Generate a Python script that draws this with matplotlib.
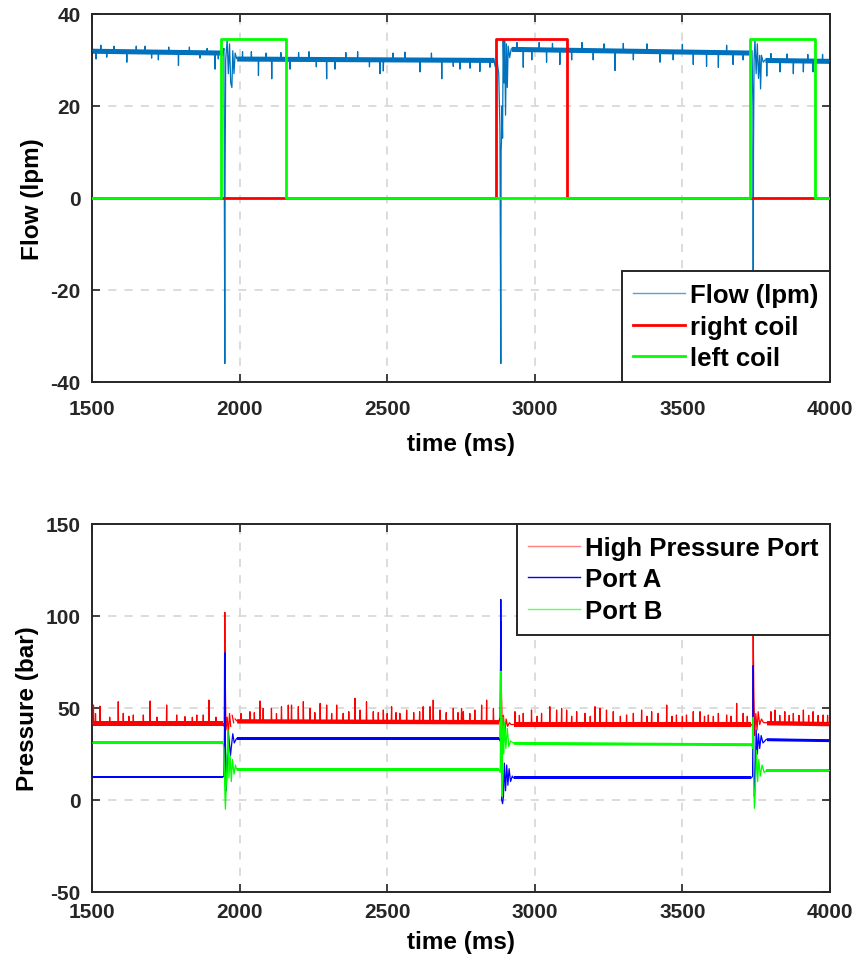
import numpy as np
import matplotlib
matplotlib.use("Agg")
import matplotlib.pyplot as plt
from matplotlib.lines import Line2D

plt.rcParams["font.family"] = ["Liberation Sans", "DejaVu Sans"]
plt.rcParams["font.weight"] = "bold"
plt.rcParams["axes.unicode_minus"] = False

TIME_LIM = (1500, 4000)
TIME_TICKS = [1500, 2000, 2500, 3000, 3500, 4000]
FLOW_TICKS = [-40, -20, 0, 20, 40]
PRESSURE_TICKS = [-50, 0, 50, 100, 150]

# ---------------- flow (lpm) ----------------
# steady stretches: start, end, level at start, level at end
flow_seg_start = [1500, 1990, 2920, 3780]
flow_seg_end = [1944, 2862, 3732, 4000]
flow_seg_lvl0 = [32.0, 30.3, 32.4, 30.0]
flow_seg_lvl1 = [31.6, 30.0, 31.6, 29.8]
flow_band = 0.55

# switching transients
flow_event_t = [1944, 1947, 1950, 1951, 1953, 1958, 1962, 1966, 1970, 1974, 1977, 1981, 1985, 1990,
                2862, 2866, 2872, 2878, 2882, 2885, 2886, 2887, 2889, 2891, 2893, 2896, 2898, 2901,
                2904, 2907, 2910, 2915, 2920,
                3732, 3736, 3739, 3740, 3741, 3743, 3746, 3750, 3754, 3758, 3762, 3765, 3768, 3774, 3780]
flow_event_v = [31.6, 32.5, -36.0, 5.0, 30.0, 34.5, 27.0, 33.5, 25.0, 24.0, 32.0, 27.0, 31.5, 30.3,
                30.0, 28.5, 30.0, 27.0, 15.0, -36.0, 10.0, 12.0, 20.0, 13.0, 34.5, 25.0, 34.5, 18.0,
                33.5, 24.0, 33.0, 30.5, 32.4,
                31.6, 32.0, 20.0, -36.0, 10.0, 30.0, 34.5, 27.0, 33.5, 26.0, 31.0, 23.7, 31.0, 29.5, 30.0]

# isolated dips and peaks in the flow record
flow_spike_t = [1514, 1530, 1550, 1575, 1618, 1650, 1680, 1702, 1725, 1760, 1793, 1830, 1866, 1890,
                1917, 1928,
                2010, 2040, 2064, 2090, 2109, 2140, 2171, 2200, 2235, 2260, 2295, 2323, 2360, 2400,
                2440, 2476, 2487, 2520, 2560, 2611, 2650, 2685, 2724, 2747, 2781, 2814, 2848,
                2940, 2961, 2990, 3015, 3040, 3060, 3085, 3125, 3160, 3198, 3235, 3272, 3300, 3334,
                3380, 3424, 3469, 3500, 3537, 3582, 3622, 3650, 3672, 3706,
                3786, 3800, 3831, 3855, 3876, 3910, 3925, 3943, 3975]
flow_spike_v = [30.2, 33.2, 30.6, 33.0, 29.5, 33.0, 33.0, 30.4, 30.0, 32.8, 28.8, 32.8, 30.4, 32.5,
                28.0, 30.2,
                31.8, 31.8, 26.6, 31.5, 25.9, 31.6, 28.0, 31.6, 31.8, 28.5, 25.9, 28.0, 31.6, 31.8,
                28.5, 27.0, 27.6, 31.5, 31.7, 27.4, 31.5, 25.9, 28.6, 28.0, 28.2, 27.5, 28.4,
                33.8, 28.4, 30.0, 33.8, 29.5, 33.6, 29.0, 30.0, 33.8, 30.0, 33.5, 27.7, 33.6, 30.0,
                33.5, 29.5, 30.0, 33.4, 29.0, 28.6, 28.4, 33.2, 29.0, 30.0,
                26.5, 31.4, 27.4, 31.3, 27.0, 27.4, 31.2, 27.4, 31.2]

# coil commands
right_coil_t = [1500, 2869, 2869, 3109, 3109, 4000]
right_coil_v = [0, 0, 34.5, 34.5, 0, 0]
left_coil_t = [1500, 1937, 1937, 2157, 2157, 3729, 3729, 3949, 3949, 4000]
left_coil_v = [0, 0, 34.5, 34.5, 0, 0, 34.5, 34.5, 0, 0]

# ---------------- pressures (bar) ----------------
seg_start = [1500, 1990, 2928, 3785]
seg_end = [1944, 2878, 3734, 4000]

hp_lvl0 = [41.5, 43.0, 41.0, 42.0]
hp_lvl1 = [41.5, 42.5, 41.0, 41.5]
hp_band = 1.2
hp_event_t = [1944, 1948, 1950, 1952, 1954, 1958, 1962, 1966, 1970, 1975, 1980, 1985, 1990,
              2878, 2883, 2885.5, 2887, 2890, 2894, 2898, 2903, 2908, 2914, 2920, 2928,
              3734, 3738, 3740, 3742, 3745, 3749, 3753, 3757, 3762, 3768, 3775, 3785]
hp_event_v = [41.5, 40.0, 102.0, 60.0, 38.0, 45.0, 36.0, 47.0, 40.0, 46.0, 42.0, 44.0, 43.0,
              42.5, 45.0, 97.0, 60.0, 38.0, 46.0, 35.0, 44.0, 40.0, 42.0, 41.0, 41.0,
              41.0, 40.0, 92.0, 60.0, 35.0, 47.0, 38.0, 48.0, 41.0, 44.0, 42.0, 42.0]
hp_spike_t = [1505, 1512, 1527, 1560, 1589, 1606, 1625, 1640, 1674, 1697, 1720, 1753, 1787, 1815,
              1840, 1855, 1877, 1896, 1920,
              1973, 1984, 2005, 2035, 2050, 2069, 2080, 2108, 2125, 2142, 2165, 2176, 2199, 2216,
              2239, 2255, 2273, 2295, 2312, 2329, 2351, 2370, 2391, 2408, 2430, 2453, 2470, 2487,
              2500, 2515, 2530, 2543, 2566, 2590, 2610, 2622, 2645, 2656, 2679, 2700, 2724, 2740,
              2752, 2758, 2780, 2797, 2820, 2837, 2860,
              2933, 2948, 2961, 2989, 3008, 3023, 3051, 3074, 3091, 3108, 3125, 3142, 3170, 3188,
              3204, 3221, 3243, 3266, 3290, 3311, 3334, 3362, 3380, 3396, 3418, 3447, 3465, 3480,
              3500, 3514, 3537, 3560, 3575, 3588, 3605, 3622, 3650, 3665, 3684, 3706, 3720,
              3800, 3814, 3830, 3847, 3862, 3876, 3895, 3910, 3928, 3943, 3960, 3977, 3992]
hp_spike_v = [51.6, 47.0, 51.0, 45.0, 53.4, 47.1, 45.5, 46.2, 46.2, 53.8, 45.0, 51.6, 46.2, 45.3,
              45.0, 46.2, 46.2, 54.3, 45.0,
              48.9, 48.9, 47.0, 48.0, 47.5, 53.8, 49.8, 49.8, 47.0, 50.7, 51.6, 51.6, 50.7, 53.4,
              49.8, 47.5, 52.5, 51.6, 47.0, 51.6, 47.1, 48.0, 55.3, 48.9, 53.4, 48.0, 47.5, 48.9,
              47.0, 50.7, 47.5, 47.1, 48.9, 47.5, 48.0, 50.7, 50.7, 54.3, 48.9, 47.5, 49.8, 47.5,
              49.8, 48.0, 47.0, 48.9, 51.6, 54.3, 49.8,
              48.0, 46.0, 47.1, 48.9, 45.5, 47.1, 50.7, 48.9, 49.8, 48.9, 45.5, 48.0, 47.1, 45.5,
              50.7, 49.8, 48.9, 48.0, 45.5, 46.2, 47.1, 48.9, 45.5, 48.0, 47.1, 51.6, 45.5, 46.2,
              45.5, 46.2, 48.0, 48.0, 45.5, 46.2, 45.5, 47.1, 46.2, 45.5, 52.5, 47.1, 45.5,
              48.0, 48.9, 46.0, 48.0, 46.0, 47.1, 46.0, 48.9, 46.0, 48.0, 46.0, 46.2, 46.0]

pa_lvl0 = [12.5, 33.5, 12.0, 33.0]
pa_lvl1 = [12.5, 33.5, 12.0, 32.5]
pa_band = 0.8
pa_event_t = [1944, 1947, 1949, 1950.5, 1952, 1955, 1958, 1962, 1966, 1969, 1973, 1977, 1982, 1990,
              2878, 2883, 2885, 2887, 2888, 2891, 2894, 2897, 2901, 2905, 2909, 2913, 2918, 2924, 2928,
              3734, 3738, 3740, 3742, 3744, 3747, 3750, 3754, 3758, 3762, 3767, 3773, 3785]
pa_event_v = [12.5, 13.0, 40.0, 80.0, 30.0, 5.0, 20.0, 37.0, 30.0, 24.0, 30.0, 36.0, 31.0, 33.5,
              33.5, 32.0, 109.0, 30.0, 0.0, -2.0, 2.0, 20.0, 5.0, 19.0, 8.0, 17.0, 10.0, 13.0, 12.0,
              12.0, 13.0, 73.0, 25.0, 2.0, 10.0, 38.0, 25.0, 36.0, 28.0, 35.0, 31.0, 33.0]

pb_lvl0 = [31.0, 16.5, 31.0, 16.0]
pb_lvl1 = [31.0, 16.5, 30.3, 16.0]
pb_band = 0.8
pb_event_t = [1944, 1947, 1950, 1952, 1955, 1958, 1961, 1964, 1968, 1972, 1976, 1981, 1986, 1990,
              2878, 2883, 2885.5, 2887, 2889, 2892, 2895, 2898, 2902, 2907, 2912, 2918, 2928,
              3734, 3738, 3740, 3742, 3744, 3747, 3751, 3755, 3759, 3764, 3770, 3777, 3785]
pb_event_v = [31.0, 28.0, 5.0, -5.0, 8.0, 25.0, 38.0, 12.0, 24.0, 10.0, 22.0, 14.0, 19.0, 16.5,
              16.5, 15.0, 70.0, 20.0, 2.0, 45.0, 25.0, 42.0, 28.0, 39.0, 29.0, 32.0, 31.0,
              30.3, 28.0, 45.0, 10.0, -4.5, 5.0, 27.0, 10.0, 22.0, 13.0, 19.0, 15.0, 16.0]


def assemble(s0, s1, l0, l1, ev_t, ev_v, sp_t, sp_v):
    """Merge steady stretches, transients and isolated spikes into one polyline."""
    pts = []
    for a, b, va, vb in zip(s0, s1, l0, l1):
        pts += [(a, va), (b, vb)]

    def level(t):
        for a, b, va, vb in zip(s0, s1, l0, l1):
            if a <= t <= b:
                return va + (vb - va) * (t - a) / (b - a)
        return None

    for t, v in zip(sp_t, sp_v):
        base = level(t)
        pts += [(t - 1.0, base), (t, v), (t + 1.0, base)]
    pts += list(zip(ev_t, ev_v))
    pts.sort(key=lambda p: p[0])
    t, v = zip(*pts)
    return np.array(t), np.array(v)


def band(ax, s0, s1, l0, l1, w, color):
    for a, b, va, vb in zip(s0, s1, l0, l1):
        ax.fill_between([a, b], [va - w, vb - w], [va + w, vb + w],
                        color=color, lw=0, zorder=2)


def style_axes(ax, yticks, ylabel, xpad, xlabelpad):
    ax.set_xlim(*TIME_LIM)
    ax.set_ylim(yticks[0], yticks[-1])
    ax.set_xticks(TIME_TICKS)
    ax.set_yticks(yticks)
    ax.grid(True, color="#d9d9d9", linestyle=(0, (4.5, 4.5)), linewidth=1.3, zorder=0)
    ax.set_axisbelow(True)
    ax.tick_params(direction="in", length=6, width=1.2, top=True, right=True,
                   labelsize=15, colors="#262626")
    ax.tick_params(axis="x", pad=xpad)
    ax.tick_params(axis="y", pad=8)
    for lab in ax.get_xticklabels() + ax.get_yticklabels():
        lab.set_fontweight("bold")
    for sp in ax.spines.values():
        sp.set_linewidth(1.4)
        sp.set_color("#262626")
    ax.set_xlabel("time (ms)", fontsize=17.5, fontweight="bold", labelpad=xlabelpad)
    ax.set_ylabel(ylabel, fontsize=17.5, fontweight="bold", labelpad=5)


def add_legend(ax, handles, labels, loc):
    leg = ax.legend(handles, labels, loc=loc, borderaxespad=0, fancybox=False,
                    framealpha=1, edgecolor="#262626",
                    prop={"weight": "bold", "size": 18.5}, handlelength=2.0,
                    handletextpad=0.2, labelspacing=0.3, borderpad=0.45)
    leg.get_frame().set_linewidth(1.4)
    leg.set_zorder(10)
    return leg


fig = plt.figure(figsize=(8.58, 9.70), dpi=100)
ax1 = fig.add_axes([0.1072, 0.6052, 0.8601, 0.3794])
ax2 = fig.add_axes([0.1072, 0.0794, 0.8601, 0.3794])

FLOW_C = "#0072BD"
ft, fv = assemble(flow_seg_start, flow_seg_end, flow_seg_lvl0, flow_seg_lvl1,
                  flow_event_t, flow_event_v, flow_spike_t, flow_spike_v)
band(ax1, flow_seg_start, flow_seg_end, flow_seg_lvl0, flow_seg_lvl1, flow_band, FLOW_C)
ax1.plot(ft, fv, color=FLOW_C, lw=0.9, zorder=3)
ax1.plot(right_coil_t, right_coil_v, color="#ff0000", lw=2.0, zorder=4)
ax1.plot(left_coil_t, left_coil_v, color="#00ff00", lw=2.0, zorder=5)
style_axes(ax1, FLOW_TICKS, "Flow (lpm)", xpad=12, xlabelpad=10)
add_legend(ax1,
           [Line2D([], [], color="#5aa0d8", lw=1.0),
            Line2D([], [], color="#ff0000", lw=2.0),
            Line2D([], [], color="#00ff00", lw=2.0)],
           ["Flow (lpm)", "right coil", "left coil"], "lower right")

for lv0, lv1, w, et, ev, st, sv, col in [
        (hp_lvl0, hp_lvl1, hp_band, hp_event_t, hp_event_v, hp_spike_t, hp_spike_v, "#ff0000"),
        (pa_lvl0, pa_lvl1, pa_band, pa_event_t, pa_event_v, [], [], "#0000ff"),
        (pb_lvl0, pb_lvl1, pb_band, pb_event_t, pb_event_v, [], [], "#00ff00")]:
    t, v = assemble(seg_start, seg_end, lv0, lv1, et, ev, st, sv)
    band(ax2, seg_start, seg_end, lv0, lv1, w, col)
    ax2.plot(t, v, color=col, lw=0.9, zorder=3)
style_axes(ax2, PRESSURE_TICKS, "Pressure (bar)", xpad=7, xlabelpad=7)
add_legend(ax2,
           [Line2D([], [], color="#ff8080", lw=1.0),
            Line2D([], [], color="#0000ff", lw=1.0),
            Line2D([], [], color="#60ff60", lw=1.0)],
           ["High Pressure Port", "Port A", "Port B"], "upper right")

fig.savefig("out.png", dpi=100)
